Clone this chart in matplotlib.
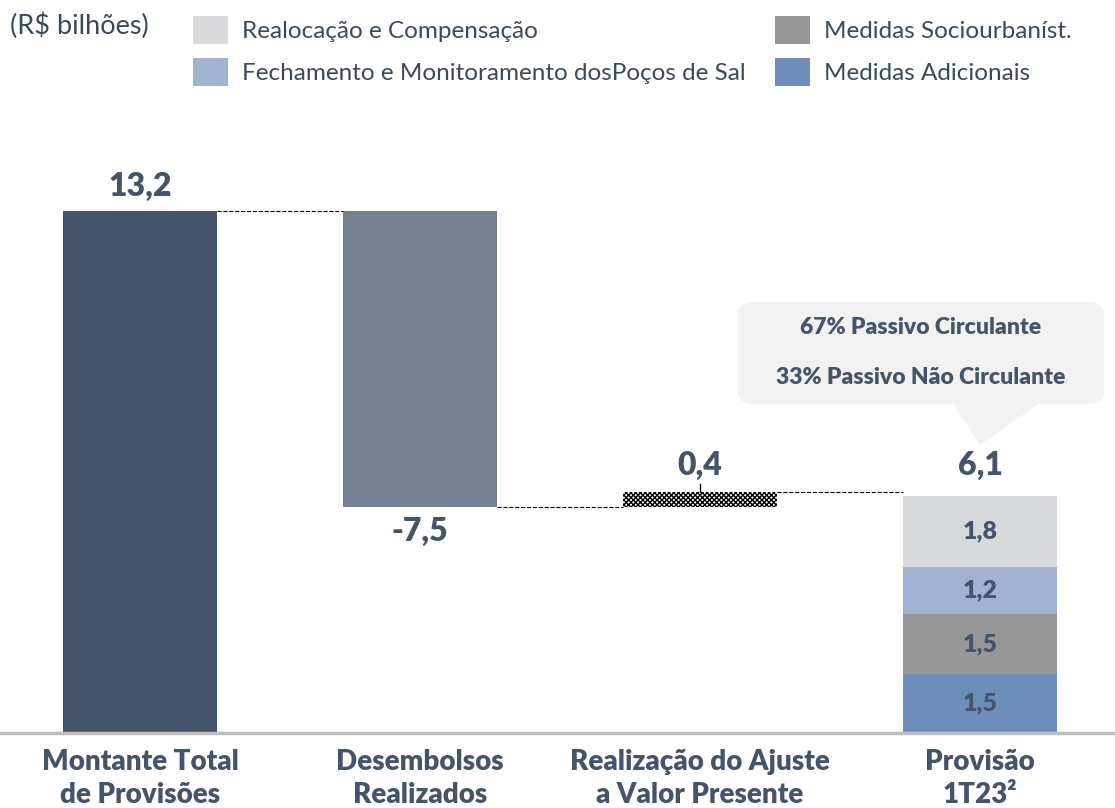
import matplotlib.pyplot as plt
from matplotlib.patches import Rectangle, FancyBboxPatch, Polygon

plt.rcParams['font.family'] = ['Lato', 'DejaVu Sans']

# dados (R$ bilhões)
categorias = ['Montante Total\nde Provisões', 'Desembolsos\nRealizados',
              'Realização do Ajuste\na Valor Presente', 'Provisão\n1T23²']
total_inicial = 13.2
desembolsos = -7.5
ajuste = 0.4
provisao = 6.1

componentes = ['Medidas Adicionais', 'Medidas Sociourbaníst.',
               'Fechamento e Monitoramento dosPoços de Sal', 'Realocação e Compensação']
valores_comp = [1.5, 1.5, 1.2, 1.8]
rotulos_comp = ['1,5', '1,5', '1,2', '1,8']
cores_comp = ['#6D8EBB', '#979797', '#A1B3D1', '#D8D9DB']

cor_texto = '#44546A'
largura = 0.55
peso = 'heavy'

fig = plt.figure(figsize=(11.15, 8.08), dpi=100)
ax = fig.add_axes([0, 75 / 808, 1, (733 - 100) / 808])
ax.set_xlim(-0.5, 3.482)
ax.set_ylim(0, 16)
ax.axis('off')
ax.axhline(0, color='#BFBFBF', lw=2.5, clip_on=False)

# barras
ax.bar(0, total_inicial, width=largura, color='#44546A')
ax.bar(1, -desembolsos, bottom=total_inicial + desembolsos, width=largura, color='#768191')
base3 = total_inicial + desembolsos
ax.bar(2, ajuste, bottom=base3, width=largura, color='white', edgecolor='black',
       hatch='xxxxxxx', linewidth=0)
ax.plot([2, 2], [base3 + ajuste, base3 + ajuste + 0.2], color='black', lw=1)

fundo = 0
for v, c in zip(valores_comp, cores_comp):
    ax.bar(3, v, bottom=fundo, width=largura, color=c)
    fundo += v

# conectores
h = largura / 2
ax.plot([0 + h, 1 - h], [total_inicial, total_inicial], color='black', ls='--', lw=0.8)
ax.plot([1 + h, 2 - h], [base3, base3], color='black', ls='--', lw=0.8)
ax.plot([2 + h, 3 - h], [provisao, provisao], color='black', ls='--', lw=0.8)

# rótulos de valores
fs_val = 23
ax.text(0, total_inicial + 0.25, '13,2', ha='center', va='bottom', fontsize=fs_val,
        fontweight=peso, color=cor_texto)
ax.text(1, base3 - 0.25, '-7,5', ha='center', va='top', fontsize=fs_val,
        fontweight=peso, color=cor_texto)
ax.text(2, provisao + 0.3, '0,4', ha='center', va='bottom', fontsize=fs_val,
        fontweight=peso, color=cor_texto)
ax.text(3, provisao + 0.3, '6,1', ha='center', va='bottom', fontsize=fs_val,
        fontweight=peso, color=cor_texto)
fundo = 0
for v, r in zip(valores_comp, rotulos_comp):
    ax.text(3, fundo + v / 2, r, ha='center', va='center', fontsize=18,
            fontweight=peso, color=cor_texto)
    fundo += v

# categorias
for i, c in enumerate(categorias):
    ax.text(i, -0.4, c, ha='center', va='top', fontsize=20, fontweight=peso,
            color=cor_texto, linespacing=1.35)

# balão
caixa = FancyBboxPatch((738 / 1115, (808 - 404) / 808), (1104 - 738) / 1115, 102 / 808,
                       boxstyle='round,pad=0,rounding_size=0.015', transform=fig.transFigure,
                       facecolor='#F2F2F2', edgecolor='none')
fig.patches.append(caixa)
ponta = Polygon([(953 / 1115, (808 - 403) / 808), (1040 / 1115, (808 - 403) / 808),
                 (980 / 1115, (808 - 445) / 808)], closed=True, transform=fig.transFigure,
                facecolor='#F2F2F2', edgecolor='none')
fig.patches.append(ponta)
fig.text(921 / 1115, 1 - 328 / 808, '67% Passivo Circulante', ha='center', va='center',
         fontsize=16.5, fontweight=peso, color=cor_texto)
fig.text(921 / 1115, 1 - 378 / 808, '33% Passivo Não Circulante', ha='center', va='center',
         fontsize=16.5, fontweight=peso, color=cor_texto)

# legenda
fig.text(10 / 1115, 1 - 26 / 808, '(R$ bilhões)', ha='left', va='center', fontsize=19.5,
         color='#3B4A5A')
pos_leg = [(775, 72), (775, 30), (193, 72), (193, 30)]
for (x, y), nome, cor in zip(pos_leg, componentes, cores_comp):
    fig.patches.append(Rectangle((x / 1115, 1 - (y + 14) / 808), 35 / 1115, 28 / 808,
                                 transform=fig.transFigure, facecolor=cor, edgecolor='none'))
    fig.text((x + 49) / 1115, 1 - (y + 2) / 808, nome, ha='left', va='center',
             fontsize=17.5, color='#3B4A5A')

fig.savefig('out.png', dpi=100)
